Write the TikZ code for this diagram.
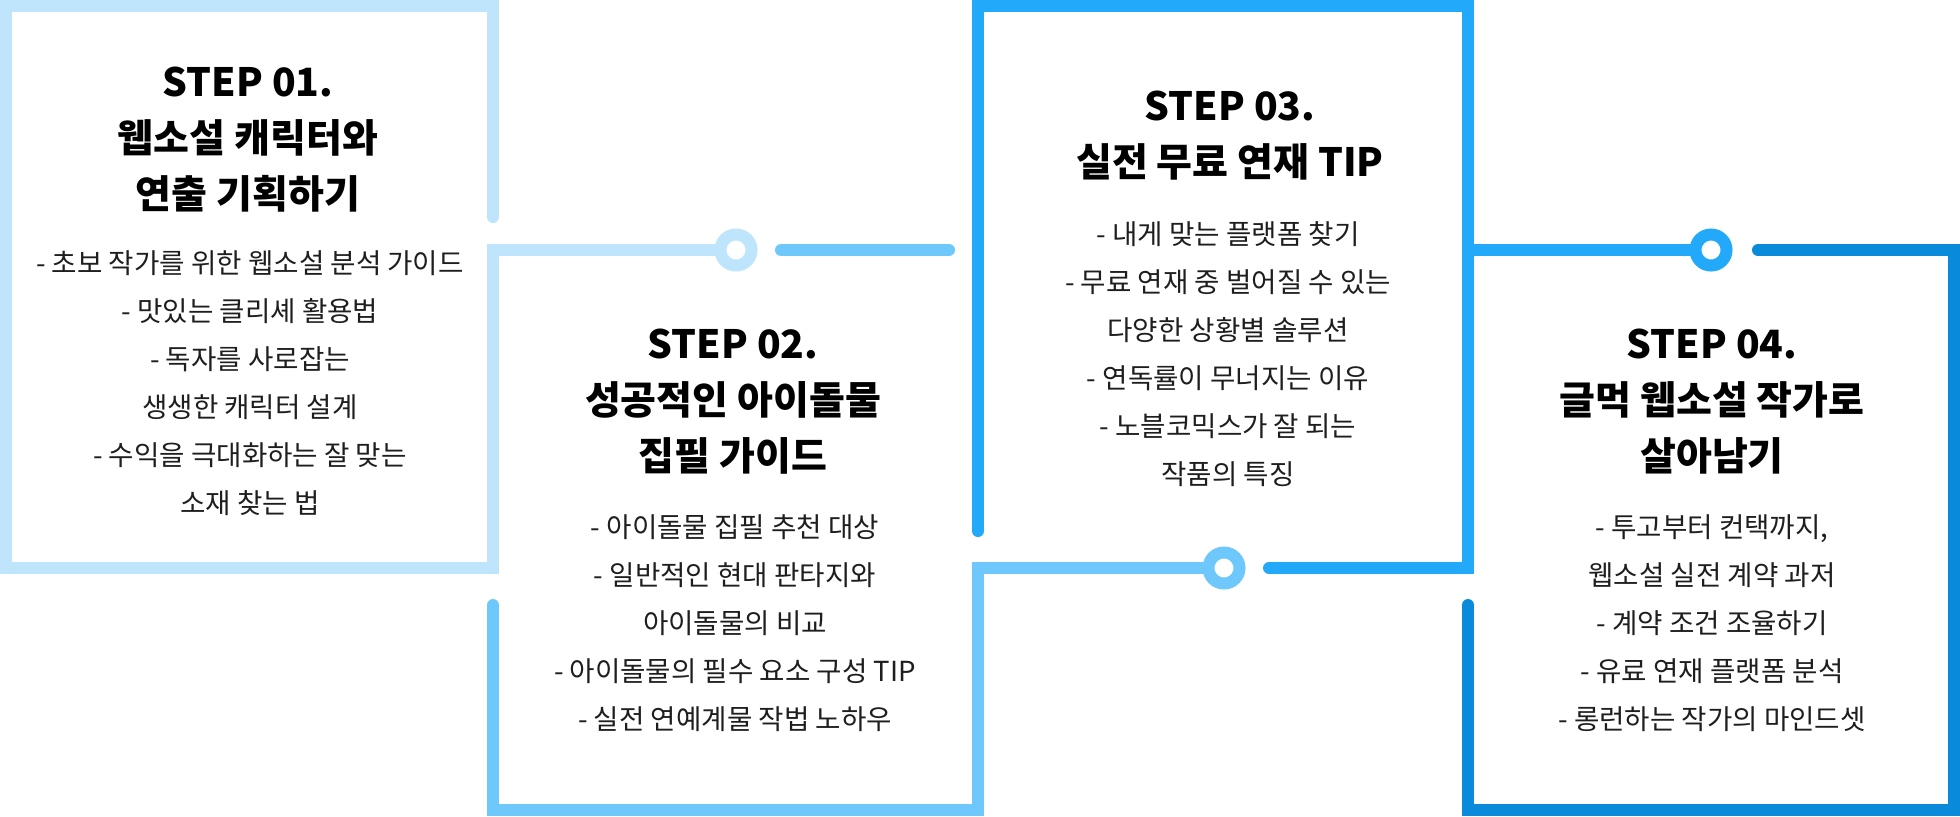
\documentclass[tikz,border=0pt]{standalone}
\usepackage{fontspec}
\setmainfont{Noto Sans CJK KR}
\usepackage{xcolor}
\usepackage{tikz}
\usetikzlibrary{calc}

\definecolor{stepA}{HTML}{BEE5FC}
\definecolor{stepB}{HTML}{6FC8FC}
\definecolor{stepC}{HTML}{22A9FA}
\definecolor{stepD}{HTML}{0A8ADB}
\definecolor{bodytext}{HTML}{1E1E1E}

\begin{document}
\begin{tikzpicture}[
    x=0.5pt, y=-0.5pt,
    frame/.style={line width=6pt, line cap=round, line join=miter},
    knot/.style={circle, draw, line width=6pt, minimum size=15.5pt, inner sep=0pt},
    title/.style={font=\bfseries\fontsize{19.5}{28}\selectfont, align=center, inner sep=0pt, text=black},
    body/.style={font=\fontsize{13.8}{24}\selectfont, align=center, inner sep=0pt, text=bodytext}
]

% Canvas
\useasboundingbox[fill=white] (0,0) rectangle (1960,816);

% Rings between the steps
\node[knot, draw=stepA] (ring1) at (736,250) {};
\node[knot, draw=stepB] (ring2) at (1224,568) {};
\node[knot, draw=stepC] (ring3) at (1711,250) {};

% Step 1 frame
\coordinate (a1) at (493,217);
\coordinate (a2) at (493,6);
\coordinate (a3) at (6,6);
\coordinate (a4) at (6,568);
\coordinate (a5) at (493,568);
\coordinate (a6) at (493,250);
\draw[frame, stepA] (a1) -- (a2) -- (a3) -- (a4) -- (a5) -- (a6) -- (ring1.west);

% Step 2 frame
\coordinate (b1) at (781,250);
\coordinate (b2) at (949,250);
\coordinate (b3) at (493,605);
\coordinate (b4) at (493,810);
\coordinate (b5) at (978,810);
\coordinate (b6) at (978,568);
\draw[frame, stepB] (b1) -- (b2);
\draw[frame, stepB] (b3) -- (b4) -- (b5) -- (b6) -- (ring2.west);

% Step 3 frame
\coordinate (c1) at (1269,568);
\coordinate (c2) at (1468,568);
\coordinate (c3) at (1468,6);
\coordinate (c4) at (978,6);
\coordinate (c5) at (978,531);
\coordinate (c6) at (1468,250);
\draw[frame, stepC] (c1) -- (c2) -- (c3) -- (c4) -- (c5);
\draw[frame, stepC] (c6) -- (ring3.west);

% Step 4 frame
\coordinate (d1) at (1758,250);
\coordinate (d2) at (1954,250);
\coordinate (d3) at (1954,810);
\coordinate (d4) at (1468,810);
\coordinate (d5) at (1468,605);
\draw[frame, stepD] (d1) -- (d2) -- (d3) -- (d4) -- (d5);

% Step texts
\node[title] (head1) at (248,140) {STEP 01.\\웹소설 캐릭터와\\연출 기획하기};
\node[body] (list1) at (250,383) {- 초보 작가를 위한 웹소설 분석 가이드\\- 맛있는 클리셰 활용법\\- 독자를 사로잡는\\생생한 캐릭터 설계\\- 수익을 극대화하는 잘 맞는\\소재 찾는 법};

\node[title] (head2) at (733,402) {STEP 02.\\성공적인 아이돌물\\집필 가이드};
\node[body] (list2) at (735,623) {- 아이돌물 집필 추천 대상\\- 일반적인 현대 판타지와\\아이돌물의 비교\\- 아이돌물의 필수 요소 구성 TIP\\- 실전 연예계물 작법 노하우};

\node[title] (head3) at (1230,136) {STEP 03.\\실전 무료 연재 TIP};
\node[body] (list3) at (1228,354) {- 내게 맞는 플랫폼 찾기\\- 무료 연재 중 벌어질 수 있는\\다양한 상황별 솔루션\\- 연독률이 무너지는 이유\\- 노블코믹스가 잘 되는\\작품의 특징};

\node[title] (head4) at (1712,402) {STEP 04.\\글먹 웹소설 작가로\\살아남기};
\node[body] (list4) at (1712,623) {- 투고부터 컨택까지,\\웹소설 실전 계약 과저\\- 계약 조건 조율하기\\- 유료 연재 플랫폼 분석\\- 롱런하는 작가의 마인드셋};

\end{tikzpicture}
\end{document}
